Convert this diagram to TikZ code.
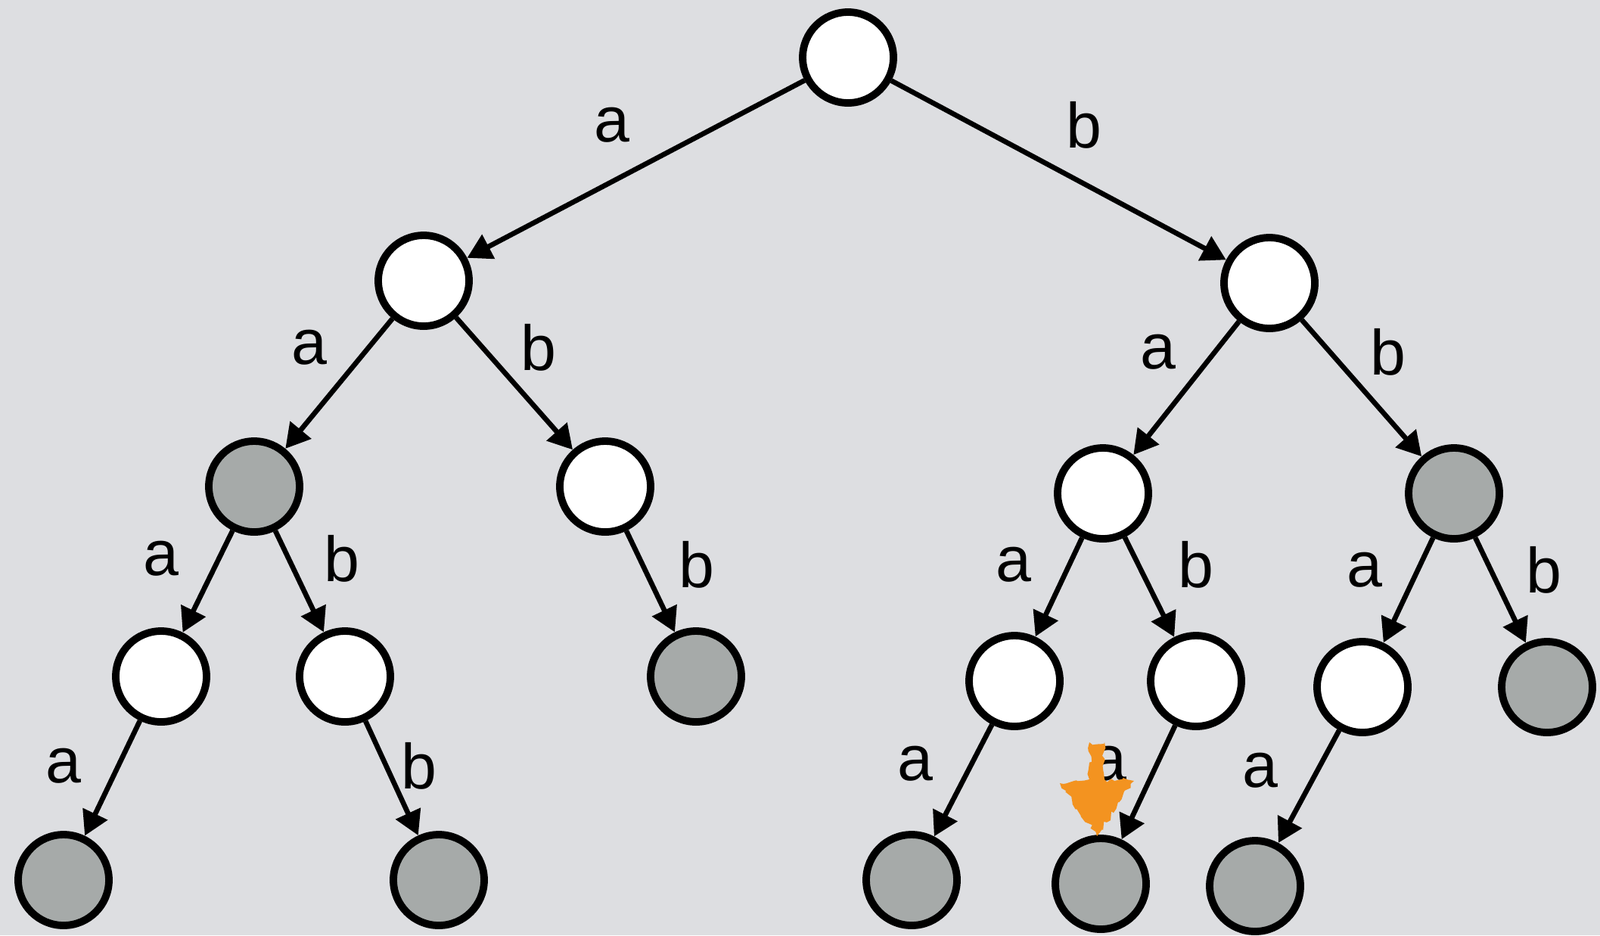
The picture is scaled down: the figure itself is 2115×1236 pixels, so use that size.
\documentclass[tikz,border=0pt]{standalone}
\usepackage{fontspec}
\setmainfont{Liberation Sans}
\usetikzlibrary{arrows.meta,shadows,decorations.pathmorphing}

\definecolor{bggray}{RGB}{221,222,225}
\definecolor{leafgray}{RGB}{166,170,169}
\definecolor{markorange}{RGB}{243,147,32}

\begin{document}
\begin{tikzpicture}[x=0.1mm, y=-0.1mm]
			\tikzstyle{vertex}  = [circle, minimum size=1.2cm, inner sep=0pt, line width=2.8pt, draw=black, fill=white, drop shadow={shadow xshift=0pt, shadow yshift=-1.5pt, opacity=0.18}]
			\tikzstyle{dead}    = [vertex, fill=leafgray]
			\tikzstyle{lbl}     = [inner sep=0pt, font=\fontsize{24}{28}\selectfont]

			\fill[bggray] (0,0) rectangle (2115,1236);
			\useasboundingbox (0,0) rectangle (2115,1236);

			% states still alive
			\foreach \name/\x/\y in {n/1121/76, na/560/371, nb/1678/374, nab/800/643, nba/1458/652,
				naaa/213/894, naab/456/894, nbaa/1341/900, nbab/1581/900, nbba/1801/908}
				\node[vertex] (\name) at (\x, \y) {};

			% dead states
			\foreach \name/\x/\y in {naa/336/643, nbb/1922/652, nabb/920/894, nbbb/2045/908,
				naaaa/84/1163, naabb/580/1163, nbaaa/1205/1163, nbaba/1455/1168, nbbaa/1659/1171}
				\node[dead] (\name) at (\x, \y) {};

			\foreach \from/\to in {n/na, n/nb, na/naa, na/nab, nb/nba, nb/nbb, naa/naaa, naa/naab,
				nab/nabb, nba/nbaa, nba/nbab, nbb/nbba, nbb/nbbb, naaa/naaaa, naab/naabb,
				nbaa/nbaaa, nbab/nbaba, nbba/nbbaa}
				\path[-{Triangle[length=0.32cm, width=0.35cm]}, line width=1.9pt] (\from) edge (\to);

			% edge letters
			\foreach \name/\text/\x/\y in {l1/a/809/165, l2/b/1433/165, l3/a/409/459, l4/b/712/459,
				l5/a/1531/465, l6/b/1835/465, l7/a/213/738, l8/b/452/738, l9/b/921/746,
				l10/a/1340/746, l11/b/1581/746, l12/a/1804/753, l13/b/2041/753,
				l14/a/84/1012, l15/b/554/1012, l16/a/1210/1009, l17/a/1466/1009, l18/a/1666/1018}
				\node[lbl] (\name) at (\x, \y) {\text};

			% hand drawn marker
			\fill[markorange, decorate, decoration={random steps, segment length=1.5pt, amplitude=1pt}]
				(1440,981) -- (1460,981) -- (1460,1030) -- (1499,1032) -- (1450,1105)
				-- (1401,1035) -- (1440,1030) -- cycle;

		\end{tikzpicture}
\end{document}
